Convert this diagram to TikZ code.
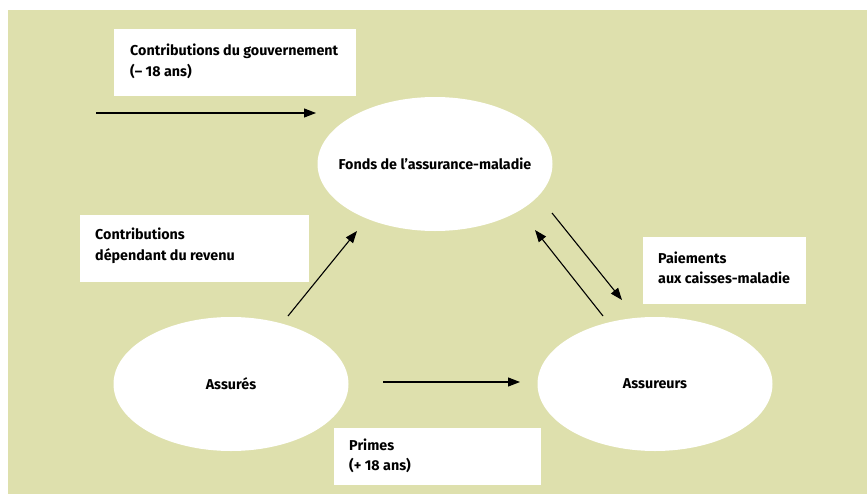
\documentclass[tikz,border=0pt]{standalone}
\usepackage{fontspec}
\setmainfont{Fira Sans}
\usetikzlibrary{arrows.meta,shapes.geometric}
\definecolor{bgreen}{RGB}{222,224,173}
\tikzset{
  txt/.style={font=\bfseries\fontsize{14.3pt}{20.5pt}\selectfont, inner sep=0pt},
  box/.style={fill=white, draw=none, anchor=north west, inner sep=0pt},
  boxtxt/.style={txt, align=left, anchor=west},
  oval/.style={ellipse, fill=white, draw=none, inner sep=0pt},
  arr/.style={line width=1.1pt, -{Triangle[length=12pt,width=9pt]}}
}
\begin{document}
\begin{tikzpicture}[x=1pt,y=-1pt]
\useasboundingbox (0,0) rectangle (867,495);
\fill[bgreen] (8,10) rectangle (867,494);
% ellipses
\node[oval, minimum width=235pt, minimum height=134pt, label={[txt]center:Fonds de l’assurance-maladie}] (fonds) at (435,164) {};
\node[oval, minimum width=235pt, minimum height=134pt, label={[txt]center:Assurés}] (assures) at (231,384) {};
\node[oval, minimum width=235pt, minimum height=134pt, label={[txt]center:Assureurs}] (assureurs) at (655,384) {};
% label boxes
\node[box, minimum width=242pt, minimum height=67pt] (gouv) at (114,29) {};
\node[boxtxt] (gouvt) at (130,61.5) {Contributions du gouvernement\\(– 18 ans)};
\node[box, minimum width=229pt, minimum height=67pt] (revenu) at (80,215) {};
\node[boxtxt] (revenut) at (95,246) {Contributions\\dépendant du revenu};
\node[box, minimum width=163pt, minimum height=67pt] (paie) at (643,237) {};
\node[boxtxt] (paiet) at (658,268) {Paiements\\aux caisses-maladie};
\node[box, minimum width=207pt, minimum height=57pt] (primes) at (334,428) {};
\node[boxtxt] (primest) at (349,456) {Primes\\(+ 18 ans)};
% arrow end points
\coordinate (g1) at (96,113);
\coordinate (g2) at (316,113);
\coordinate (r1) at (288,316);
\coordinate (r2) at (357,231);
\coordinate (d1) at (552,213);
\coordinate (d2) at (622,300);
\coordinate (u1) at (603,316);
\coordinate (u2) at (535,230);
\coordinate (p1) at (383,382);
\coordinate (p2) at (520,382);
\draw[arr] (g1) -- (g2);
\draw[arr] (r1) -- (r2);
\draw[arr] (d1) -- (d2);
\draw[arr] (u1) -- (u2);
\draw[arr] (p1) -- (p2);
\end{tikzpicture}
\end{document}
